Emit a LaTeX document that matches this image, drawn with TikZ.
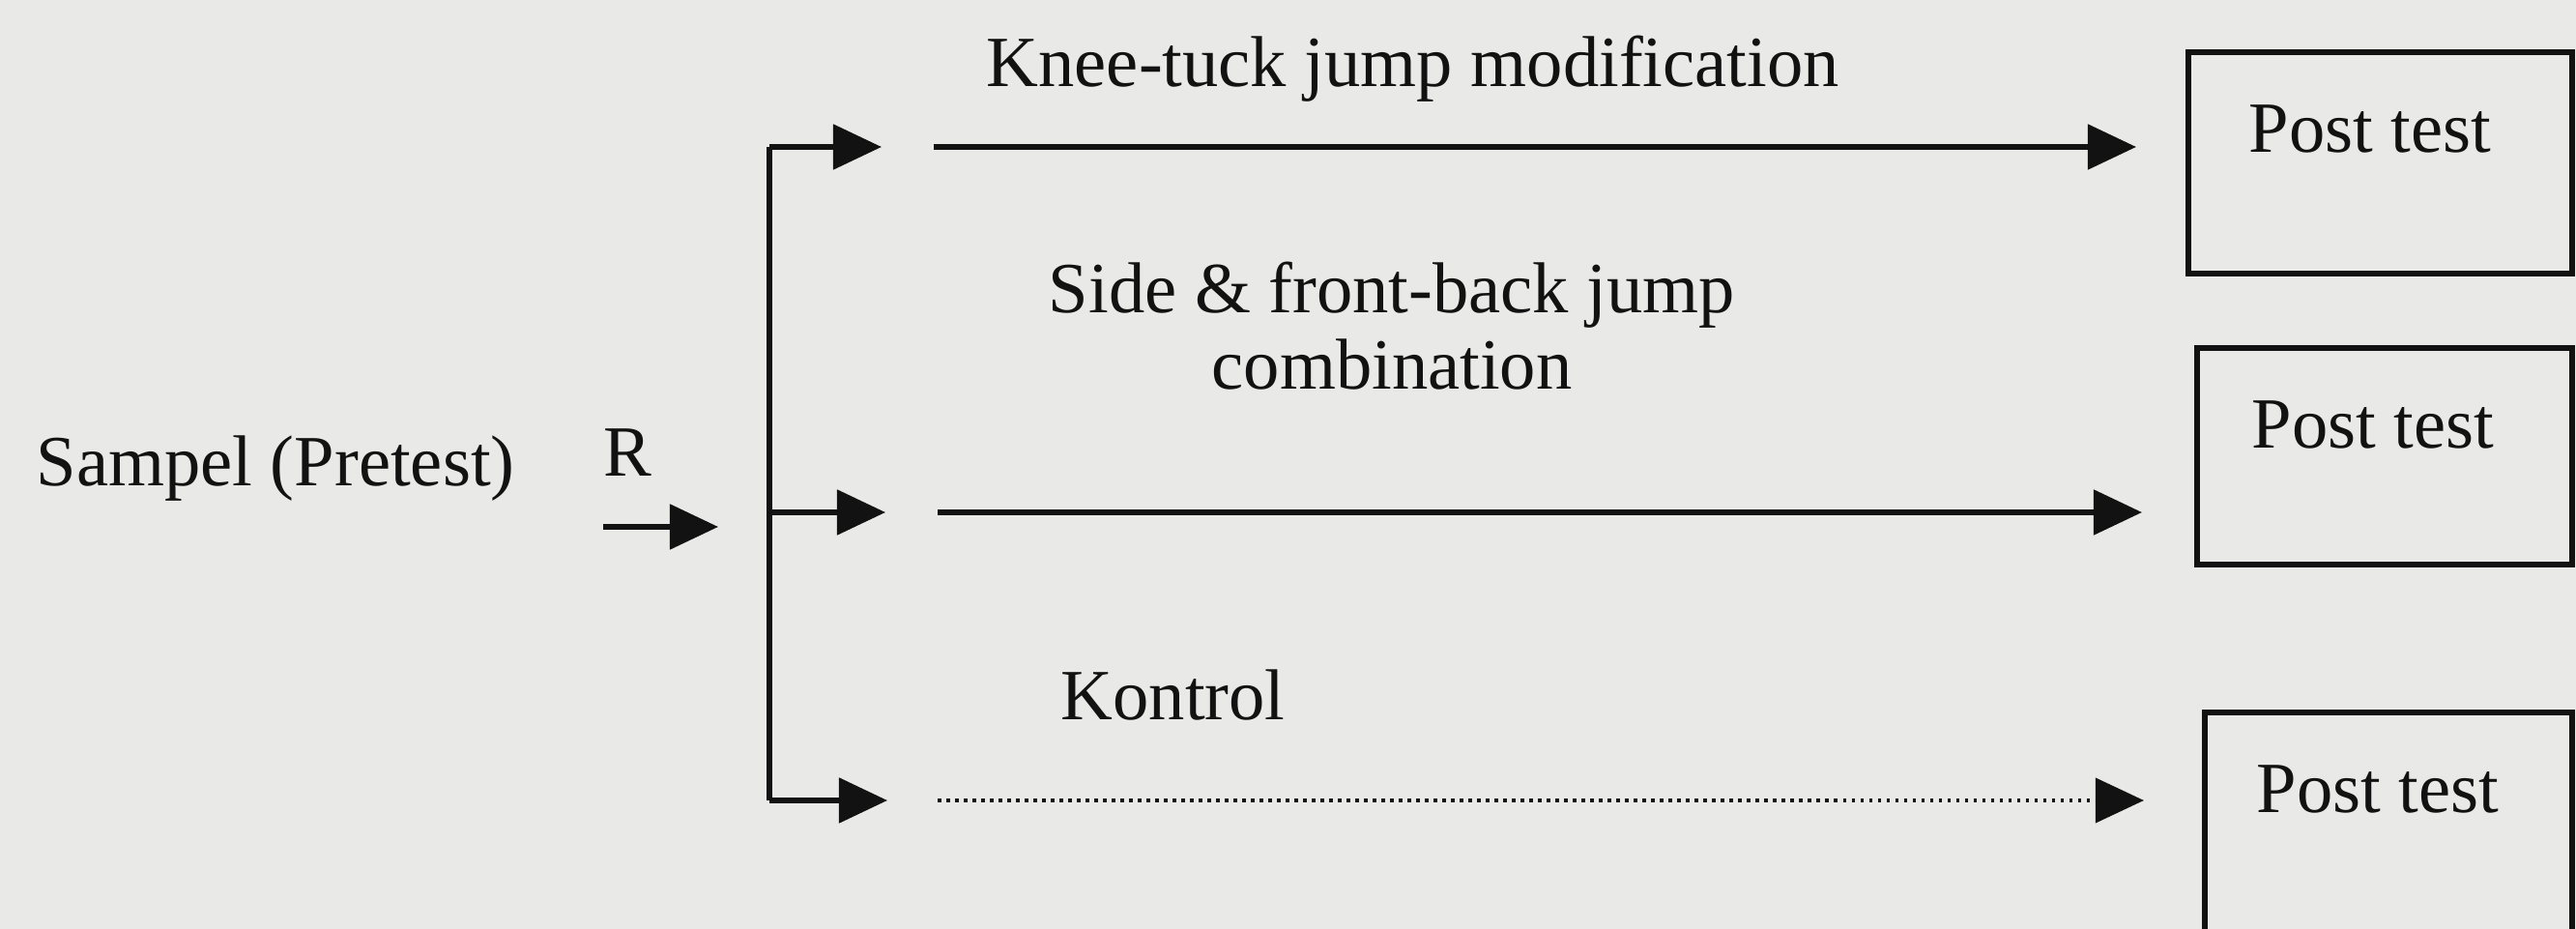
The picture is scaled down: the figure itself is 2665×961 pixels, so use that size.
\documentclass[tikz,border=0pt]{standalone}
\usepackage{fontspec}
\setmainfont{Liberation Serif}
\usetikzlibrary{arrows.meta}
\definecolor{paper}{RGB}{233,233,231}
\definecolor{ink}{RGB}{18,18,18}
\begin{document}
\begin{tikzpicture}[x=0.01cm,y=-0.01cm,
  txt/.style={font=\fontsize{21.2}{22.7}\selectfont, text=ink, inner sep=0pt},
  conn/.style={draw=ink, line width=1.5pt, -{Triangle[length=0.5cm,width=0.46cm]}},
  bus/.style={draw=ink, line width=1.5pt},
  dots/.style={dash pattern=on 0.035cm off 0.055cm, line width=1.1pt},
  postbox/.style={draw=ink, line width=1.6pt, rectangle, inner sep=0pt, anchor=north west}]
\path[fill=paper] (0,0) rectangle (2665,961);
\useasboundingbox (0,0) rectangle (2665,961);
\clip (0,0) rectangle (2665,961);

% left side
\node[txt, anchor=base west] (sampel) at (37,503) {Sampel (Pretest)};
\node[txt, anchor=base west] (r) at (624,493) {R};
\coordinate (in0) at (624,545);
\coordinate (in1) at (743,545);
\draw[conn] (in0) -- (in1);

% bus and branches
\coordinate (j1) at (796,152);
\coordinate (j2) at (796,530);
\coordinate (j3) at (796,828);
\draw[bus] (j1) -- (j3);
\coordinate (t1) at (912,152);
\coordinate (t2) at (916,530);
\coordinate (t3) at (918,828);
\draw[conn] (j1) -- (t1);
\draw[conn] (j2) -- (t2);
\draw[conn] (j3) -- (t3);

% boxes
\node[postbox, minimum width=3.97cm, minimum height=2.29cm] (b1) at (2261,51) {};
\node[postbox, minimum width=3.88cm, minimum height=2.24cm] (b2) at (2270,357) {};
\node[postbox, minimum width=3.80cm, minimum height=2.60cm] (b3) at (2278,734) {};
\node[txt, anchor=base west] (pt1) at (2326,158) {Post test};
\node[txt, anchor=base west] (pt2) at (2329,464) {Post test};
\node[txt, anchor=base west] (pt3) at (2334,841) {Post test};

% long arrows
\coordinate (k0) at (966,152);
\coordinate (s0) at (970,530);
\coordinate (c0) at (970,828);
\draw[conn, shorten >=0.51cm] (k0) -- (k0 -| b1.west);
\draw[conn, shorten >=0.54cm] (s0) -- (s0 -| b2.west);
\draw[conn, dots, shorten >=0.60cm] (c0) -- (c0 -| b3.west);

% labels
\node[txt, anchor=base west] (lk) at (1020,90) {Knee-tuck jump modification};
\node[txt, anchor=base, align=center] (ls) at (1440,403) {Side \& front-back jump\\combination};
\node[txt, anchor=base west] (lc) at (1097,745) {Kontrol};
\end{tikzpicture}
\end{document}
